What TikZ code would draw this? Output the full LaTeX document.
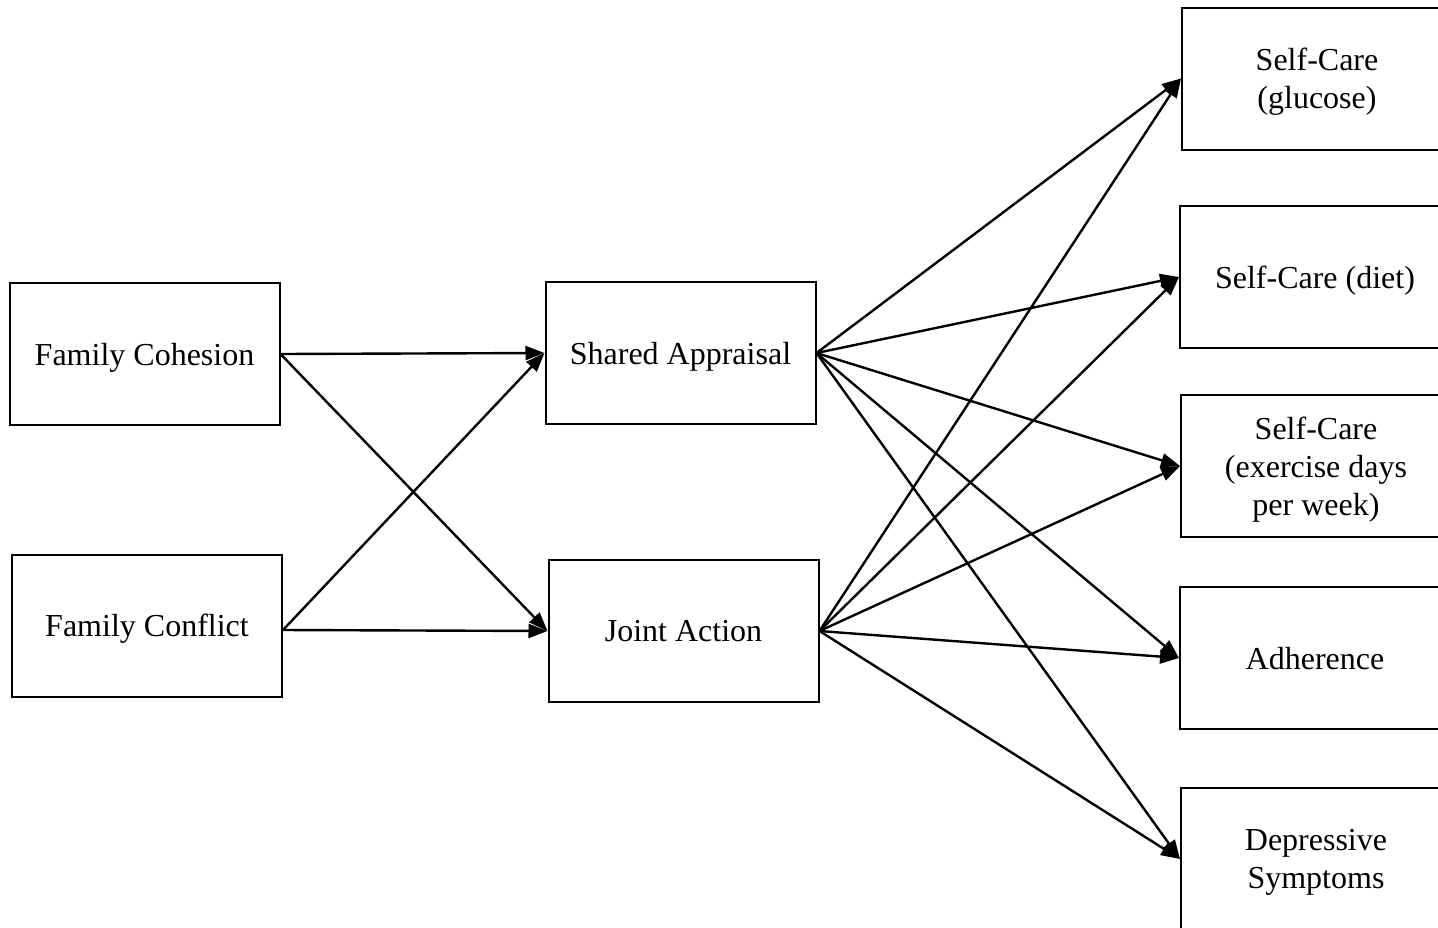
\documentclass[tikz,border=0pt]{standalone}
\usepackage{fontspec}
\setmainfont{Liberation Serif}
\usetikzlibrary{arrows.meta}
\begin{document}
\begin{tikzpicture}[x=1pt,y=-1pt,
  box/.style={draw=black,line width=2pt,minimum width=270pt,minimum height=142pt,inner sep=0pt,align=center,text depth=0pt,font=\fontsize{32}{38}\selectfont},
  conn/.style={line width=2.4pt,-{Triangle[length=19pt,width=14pt]}}]
\useasboundingbox (0,0) rectangle (1438,927);
\clip (0,0) rectangle (1438,927);
\fill[white] (0,0) rectangle (1438,927);
\node[box] (fc) at (144.5,354) {Family Cohesion};
\node[box] (fk) at (147,625.5) {Family Conflict};
\node[box] (sa) at (680.5,353) {Shared Appraisal};
\node[box] (ja) at (683.5,631) {Joint Action};
\node[box] (glu) at (1317,78.5) {Self-Care\\(glucose)};
\node[box] (diet) at (1315,277) {Self-Care (diet)};
\node[box] (ex) at (1316,466) {Self-Care\\(exercise days\\per week)};
\node[box] (adh) at (1315,658) {Adherence};
\node[box] (dep) at (1316,859) {Depressive\\Symptoms};
\draw[conn] (fc.east) -- (sa.west);
\draw[conn] (fc.east) -- (ja.west);
\draw[conn] ([yshift=-4.5pt]fk.east) -- (sa.west);
\draw[conn] ([yshift=-4.5pt]fk.east) -- (ja.west);
\foreach \t in {glu,diet,ex,adh,dep}{
  \draw[conn] (sa.east) -- (\t.west);
  \draw[conn] (ja.east) -- (\t.west);
}
\end{tikzpicture}
\end{document}
